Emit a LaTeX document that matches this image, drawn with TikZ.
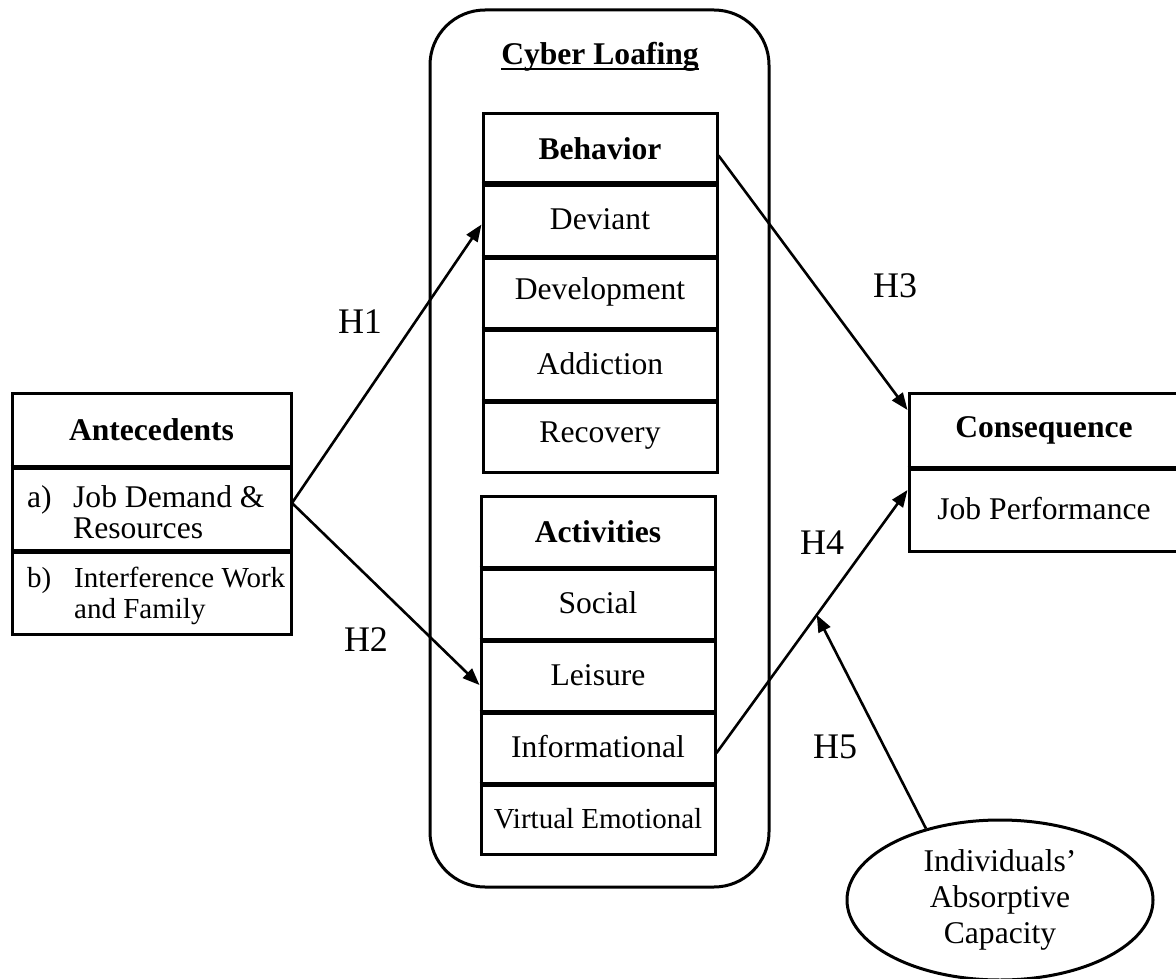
\documentclass[tikz,border=0pt]{standalone}
\usepackage{fontspec}
\setmainfont{Liberation Serif}
\usetikzlibrary{arrows.meta,shapes.geometric}
\begin{document}
\begin{tikzpicture}[x=1pt,y=-1pt,
  txt/.style={font=\fontsize{31.6}{36}\selectfont},
  small/.style={font=\fontsize{29}{31}\selectfont},
  hlab/.style={font=\fontsize{36}{40}\selectfont, inner sep=0pt},
  cell/.style={draw, line width=3pt, rectangle, inner sep=0pt, txt},
  bcell/.style={cell, minimum width=234},
  acell/.style={cell, minimum width=279},
  ccell/.style={cell, minimum width=270},
  divider/.style={line width=5pt},
  arr/.style={line width=2.6pt, -{Triangle[length=17pt,width=13pt]}},
]
\clip (0,0) rectangle (1176,979);
\fill[white] (0,0) rectangle (1176,979);

% Cyber loafing container
\node[draw, line width=3pt, rounded corners=55pt, minimum width=339, minimum height=877, inner sep=0pt] (cyber) at (599.5,448.5) {};
\node[txt, font=\bfseries\fontsize{31.6}{36}\selectfont, inner sep=0pt] (title) at (600,57) {Cyber Loafing};
\draw[line width=2.5pt] ([yshift=-4.5pt]title.base west) -- ([yshift=-4.5pt]title.base east);

% Behavior column
\node[bcell, minimum height=69] (beh) at (600,148.5) {\textbf{Behavior}};
\node[bcell, minimum height=73] (dev) at (600,219.5) {Deviant};
\node[bcell, minimum height=72] (devl) at (600,292) {Development};
\node[bcell, minimum height=72] (addi) at (600,364) {Addiction};
\node[bcell, minimum height=72] (reco) at (600,436) {Recovery};
\foreach \a in {beh,dev,devl,addi}
  \draw[divider] (\a.south west) -- (\a.south east);

% Activities column
\node[bcell, minimum height=71] (act) at (598,531.5) {\textbf{Activities}};
\node[bcell, minimum height=72] (soc) at (598,603) {Social};
\node[bcell, minimum height=72] (leis) at (598,675) {Leisure};
\node[bcell, minimum height=72] (info) at (598,747) {Informational};
\node[bcell, minimum height=71, small] (virt) at (598,818.5) {Virtual Emotional};
\foreach \a in {act,soc,leis,info}
  \draw[divider] (\a.south west) -- (\a.south east);

% Antecedents
\node[acell, minimum height=73] (ante) at (151.5,429.5) {\textbf{Antecedents}};
\node[acell, minimum height=84] (rowa) at (151.5,508) {};
\node[acell, minimum height=84] (rowb) at (151.5,592) {};
\draw[divider] (ante.south west) -- (ante.south east);
\draw[divider] (rowa.south west) -- (rowa.south east);
\node[txt, anchor=base west, inner sep=0pt] (la) at (27,507) {a)};
\node[txt, anchor=base west, inner sep=0pt] (la1) at (73,507) {Job Demand \&};
\node[txt, anchor=base west, inner sep=0pt] (la2) at (73,538) {Resources};
\node[small, anchor=base west, inner sep=0pt] (lb) at (27,587) {b)};
\node[small, anchor=base west, inner sep=0pt] (lb1) at (74,587) {Interference Work};
\node[small, anchor=base west, inner sep=0pt] (lb2) at (74,618) {and Family};

% Consequence
\node[ccell, minimum height=74] (cons) at (1044,430) {\textbf{Consequence}};
\node[ccell, minimum height=84] (jp) at (1044,509) {Job Performance};
\draw[divider] (cons.south west) -- (cons.south east);

% Moderator
\node[ellipse, draw, line width=3pt, minimum width=306, minimum height=160, inner sep=0pt,
      align=center, font=\fontsize{31.6}{36}\selectfont] (absc) at (1000,900)
      {Individuals’\\Absorptive\\Capacity};

% Hypothesised paths
\coordinate (src) at (292,503);
\draw[arr] (src) -- ([yshift=-5pt]dev.west);
\draw[arr] (src) -- ([yshift=-10pt]leis.west);
\draw[arr] ([yshift=-7pt]beh.east) -- ([yshift=20pt]cons.west);
\draw[arr] ([yshift=-6pt]info.east) -- coordinate[pos=0.525] (mod) ([yshift=19pt]jp.west);
\draw[arr] (absc.136) -- (mod);

% Labels
\node[hlab] (h1) at (360,322) {H1};
\node[hlab] (h2) at (366,640) {H2};
\node[hlab] (h3) at (895,286) {H3};
\node[hlab] (h4) at (822,543) {H4};
\node[hlab] (h5) at (835,747) {H5};
\end{tikzpicture}
\end{document}
